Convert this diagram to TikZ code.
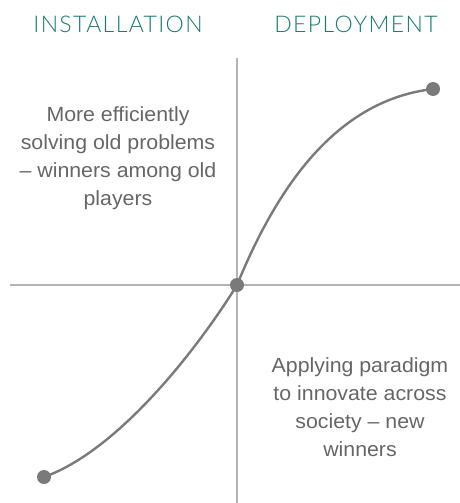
\documentclass[tikz,border=0pt]{standalone}
\usepackage{fontspec}
\setmainfont{Liberation Sans}[FakeStretch=1.04]
\newfontfamily\titlefont{Lato Light}[LetterSpace=6]
\definecolor{teal}{HTML}{1B7A6E}
\definecolor{axisgray}{HTML}{B4B4B4}
\definecolor{curvegray}{HTML}{7A7A7C}
\definecolor{textgray}{HTML}{666666}
\tikzset{
  phase/.style={font=\titlefont\fontsize{23}{26}\selectfont, text=teal, anchor=base},
  note/.style={font=\fontsize{20.5}{28}\selectfont, text=textgray, align=center, anchor=base},
  axis/.style={draw=axisgray, line width=1.6pt},
  scurve/.style={draw=curvegray, line width=2.4pt},
  dot/.style={circle, fill=curvegray, inner sep=0pt, minimum size=14pt}
}
\begin{document}
\begin{tikzpicture}[x=1pt, y=-1pt]
\useasboundingbox (0,0) rectangle (460,503);
% axes
\coordinate (vtop) at (237,58);
\coordinate (vbot) at (237,503);
\coordinate (hleft) at (10,285);
\coordinate (hright) at (460,285);
\draw[axis] (vtop) -- (vbot);
\draw[axis] (hleft) -- (hright);
% phase headings
\node[phase] (inst) at (118,33) {INSTALLATION};
\node[phase] (depl) at (356,33) {DEPLOYMENT};
% S-curve
\coordinate (start) at (44,477);
\coordinate (mid) at (237,285);
\coordinate (finish) at (433,89);
\draw[scurve] (start) .. controls (120,450) and (200,345) .. (mid)
  .. controls (280,180) and (340,100) .. (finish);
\node[dot] (d1) at (start) {};
\node[dot] (d2) at (mid) {};
\node[dot] (d3) at (finish) {};
% notes (anchored at the baseline of their last line)
\node[note] (upper) at (118,205.5) {More efficiently\\solving old problems\\– winners among old\\players};
\node[note] (lower) at (360,456.5) {Applying paradigm\\to innovate across\\society – new\\winners};
\end{tikzpicture}
\end{document}
